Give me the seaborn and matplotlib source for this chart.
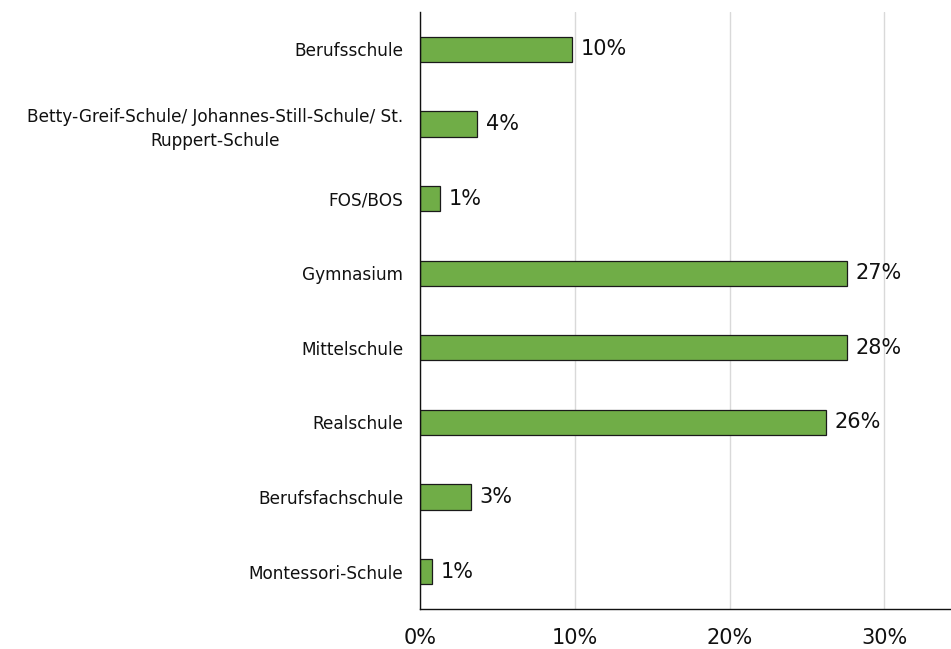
import matplotlib
matplotlib.use("Agg")
import matplotlib.pyplot as plt
import seaborn as sns
import pandas as pd
from matplotlib.ticker import FuncFormatter

categories = [
    "Berufsschule",
    "Betty-Greif-Schule/ Johannes-Still-Schule/ St.\nRuppert-Schule",
    "FOS/BOS",
    "Gymnasium",
    "Mittelschule",
    "Realschule",
    "Berufsfachschule",
    "Montessori-Schule",
]
values = [9.8, 3.7, 1.3, 27.6, 27.6, 26.2, 3.3, 0.8]
labels = ["10%", "4%", "1%", "27%", "28%", "26%", "3%", "1%"]

df = pd.DataFrame({"Schule": categories, "Anteil": values})

sns.set_theme(style="white")
plt.rcParams["font.family"] = ["DejaVu Sans"]

fig = plt.figure(figsize=(9.51, 6.49), dpi=100)
ax = fig.add_axes([420 / 951, 1 - 609 / 649, 1 - 420 / 951, (609 - 12) / 649])

sns.barplot(data=df, x="Anteil", y="Schule", orient="h", color="#70AD47",
            edgecolor="#1a1a1a", linewidth=0.9, width=0.34, ax=ax, saturation=1)

for i, (v, lab) in enumerate(zip(values, labels)):
    ax.text(v + 0.55, i, lab, va="center", ha="left", fontsize=15, color="#111111")

ax.set_xlim(0, 34.3)
ax.set_ylim(7.5, -0.5)
ax.set_xticks([0, 10, 20, 30])
ax.xaxis.set_major_formatter(FuncFormatter(lambda x, p: f"{x:.0f}%"))
ax.grid(axis="x", color="#d9d9d9", linewidth=1)
ax.set_axisbelow(True)
ax.set_xlabel("")
ax.set_ylabel("")
for s in ["top", "right"]:
    ax.spines[s].set_visible(False)
ax.spines["left"].set_color("#111111")
ax.spines["bottom"].set_color("#111111")
ax.spines["left"].set_linewidth(1)
ax.spines["bottom"].set_linewidth(1)
ax.tick_params(axis="x", labelsize=15, pad=14, length=0, colors="#111111")
ax.tick_params(axis="y", labelsize=12.2, pad=12, length=0, colors="#111111")
for t in ax.get_yticklabels():
    t.set_multialignment("center")
    t.set_linespacing(1.45)

fig.savefig("out.png", dpi=100)
